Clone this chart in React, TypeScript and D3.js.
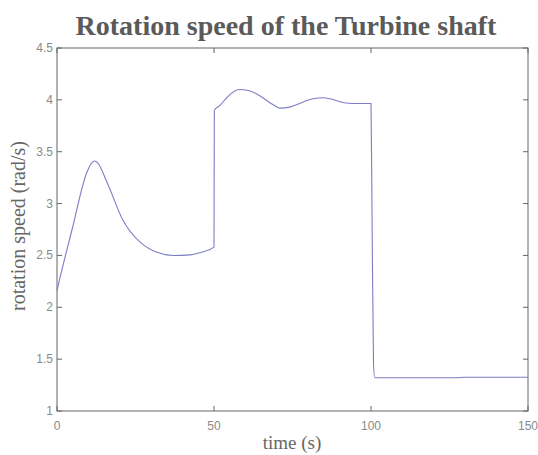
import React from 'react';
import * as d3 from 'd3';

const timeS = [0, 0.3, 4.8, 9.5, 11, 12, 13, 16, 21, 26.4, 31.8, 37, 42.4, 46, 50, 50.1, 52, 54, 58, 61, 64, 69, 71, 74, 76, 81.5, 85, 87, 92, 96, 100, 100.3, 100.8, 101.2, 110, 127, 130, 150];
const speed = [2.16, 2.2, 2.75, 3.3, 3.39, 3.41, 3.39, 3.2, 2.84, 2.63, 2.53, 2.5, 2.505, 2.53, 2.58, 3.9, 3.95, 4.02, 4.1, 4.09, 4.05, 3.95, 3.92, 3.93, 3.95, 4.01, 4.02, 4.01, 3.97, 3.965, 3.965, 3.0, 1.45, 1.32, 1.32, 1.32, 1.325, 1.325];
const xTicks = [0, 50, 100, 150];
const yTicks = [1, 1.5, 2, 2.5, 3, 3.5, 4, 4.5];
const title = 'Rotation speed of the Turbine shaft';
const xLabel = 'time (s)';
const yLabel = 'rotation speed (rad/s)';

export default function App() {
  const W = 538, H = 455;
  const L = 57, R = 528, T = 48, B = 411;
  const x = d3.scaleLinear().domain([0, 150]).range([L, R]);
  const y = d3.scaleLinear().domain([1, 4.5]).range([B, T]);
  const pts = timeS.map((t, i) => [t, speed[i]] as [number, number]);
  const line = d3.line<[number, number]>().x(d => x(d[0])).y(d => y(d[1])).curve(d3.curveMonotoneX);
  const axisCol = '#666';
  const tickCol = '#8a8a8a';
  const tl = 5;
  return (
    <svg width={W} height={H} style={{ position: 'absolute', left: 0, top: 0, background: '#fff' }}>
      <text x={286} y={35} textAnchor="middle" fontFamily="'Liberation Serif', serif" fontWeight="bold" fontSize={28} fill="#5a5a5a">{title}</text>
      <rect x={L} y={T} width={R - L} height={B - T} fill="none" stroke={axisCol} strokeWidth={1} />
      {xTicks.map(t => (
        <g key={'x' + t}>
          <line x1={x(t)} x2={x(t)} y1={B} y2={B - tl} stroke={axisCol} />
          <line x1={x(t)} x2={x(t)} y1={T} y2={T + tl} stroke={axisCol} />
          <text x={x(t)} y={430} textAnchor="middle" fontFamily="'Liberation Sans', Arial, sans-serif" fontSize={12} fill={tickCol}>{t}</text>
        </g>
      ))}
      {yTicks.map(v => (
        <g key={'y' + v}>
          <line x1={L} x2={L + tl} y1={y(v)} y2={y(v)} stroke={axisCol} />
          <line x1={R} x2={R - tl} y1={y(v)} y2={y(v)} stroke={axisCol} />
          <text x={L - 4} y={y(v) + 4} textAnchor="end" fontFamily="'Liberation Sans', Arial, sans-serif" fontSize={12} fill={tickCol}>{v}</text>
        </g>
      ))}
      <path d={line(pts) || ''} fill="none" stroke="#7d7dc6" strokeWidth={1.1} />
      <text x={292} y={449} textAnchor="middle" fontFamily="'Liberation Serif', serif" fontSize={19} fill="#666">{xLabel}</text>
      <text transform={`translate(25,226) rotate(-90)`} textAnchor="middle" fontFamily="'Liberation Serif', serif" fontSize={20} fill="#666">{yLabel}</text>
    </svg>
  );
}
